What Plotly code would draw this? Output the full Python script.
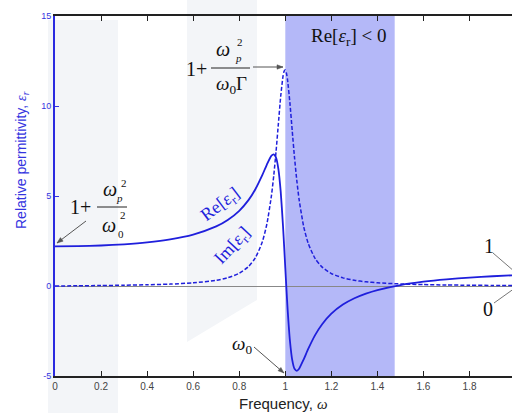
import math
import plotly.graph_objects as go

# Values
omega = [0, 0.1, 0.2, 0.3, 0.4, 0.5, 0.6, 0.7, 0.75, 0.8, 0.84, 0.87, 0.9, 0.92, 0.94,
         0.95, 0.96, 0.97, 0.98, 0.99, 0.995, 1.0, 1.005, 1.01, 1.02, 1.03, 1.04, 1.05,
         1.06, 1.08, 1.1, 1.13, 1.16, 1.2, 1.25, 1.3, 1.35, 1.4, 1.5, 1.6, 1.7, 1.8, 1.9, 2.0]
re_eps = [2.2, 2.212, 2.25, 2.317, 2.425, 2.593, 2.859, 3.309, 3.665, 4.176, 4.769, 5.376,
          6.158, 6.749, 7.24, 7.314, 7.124, 6.497, 5.254, 3.342, 2.197, 1.0, -0.179, -1.274,
          -3.028, -4.104, -4.603, -4.713, -4.594, -4.074, -3.484, -2.715, -2.121, -1.538,
          -1.033, -0.68, -0.421, -0.224, 0.054, 0.239, 0.37, 0.468, 0.543, 0.602]
im_eps = [0.0, 0.012, 0.026, 0.043, 0.068, 0.106, 0.174, 0.317, 0.457, 0.706, 1.075, 1.566,
          2.443, 3.444, 5.039, 6.152, 7.499, 9.022, 10.526, 11.65, 11.94, 12.0, 11.823, 11.428,
          10.17, 8.633, 7.142, 5.852, 4.798, 3.293, 2.349, 1.516, 1.047, 0.692, 0.452, 0.316,
          0.233, 0.179, 0.114, 0.078, 0.057, 0.043, 0.033, 0.027]
neg_region = [1.0, 1.475]
x_ticks = [0, 0.2, 0.4, 0.6, 0.8, 1.0, 1.2, 1.4, 1.6, 1.8, 2.0]
x_tick_text = ["0", "0.2", "0.4", "0.6", "0.8", "1", "1.2", "1.4", "1.6", "1.8", "2"]
y_ticks = [-5, 0, 5, 10, 15]
y_tick_text = ["-5", "0", "5", "10", "15"]

W, H = 512, 413
L, R, T, B = 55, 0, 16, 37
PW, PH = W - L - R, H - T - B


def px(x):
    return (x - L) / PW


def py(y):
    return (H - B - y) / PH


BLUE = "#1f1fdc"
SERIF = "Liberation Serif"

fig = go.Figure()
fig.add_trace(go.Scatter(x=omega, y=re_eps, mode="lines",
                         line=dict(color=BLUE, width=1.8, shape="spline", smoothing=0.6),
                         showlegend=False, hoverinfo="skip"))
fig.add_trace(go.Scatter(x=omega, y=im_eps, mode="lines",
                         line=dict(color=BLUE, width=1.5, dash="4px,2px", shape="spline", smoothing=0.6),
                         showlegend=False, hoverinfo="skip"))

shapes = []
wm = "#f3f5f8"
# faint watermark bands
shapes.append(dict(type="path", xref="paper", yref="paper", layer="below",
                   path=f"M {px(48)},{py(20)} L {px(118)},{py(20)} L {px(118)},{py(413)} L {px(48)},{py(413)} Z",
                   fillcolor=wm, line=dict(width=0)))
shapes.append(dict(type="path", xref="paper", yref="paper", layer="below",
                   path=f"M {px(187)},{py(0)} L {px(257)},{py(0)} L {px(257)},{py(300)} L {px(187)},{py(342)} Z",
                   fillcolor=wm, line=dict(width=0)))
# Re[eps] < 0 region
shapes.append(dict(type="rect", xref="x", yref="paper", x0=neg_region[0], x1=neg_region[1],
                   y0=0, y1=1, fillcolor="#b4b8f8", line=dict(width=0), layer="below"))
# fraction bars
for x0, x1, y in [(211, 250, 68), (97, 127, 207)]:
    shapes.append(dict(type="line", xref="paper", yref="paper", x0=px(x0), x1=px(x1),
                       y0=py(y), y1=py(y), line=dict(color="#222", width=1)))
# leader lines at right
shapes.append(dict(type="line", xref="paper", yref="paper", x0=px(493), y0=py(253), x1=px(515), y1=py(272),
                   line=dict(color="#777", width=1)))
shapes.append(dict(type="line", xref="paper", yref="paper", x0=px(494), y0=py(303), x1=px(515), y1=py(288),
                   line=dict(color="#777", width=1)))


def arrow(tx, ty, hx, hy, color="#555"):
    shapes.append(dict(type="line", xref="paper", yref="paper", x0=px(tx), y0=py(ty), x1=px(hx), y1=py(hy),
                       line=dict(color=color, width=1)))
    ang = math.atan2(hy - ty, hx - tx)
    ln, wd = 6, 2.2
    bx, by = hx - ln * math.cos(ang), hy - ln * math.sin(ang)
    p1 = (bx + wd * math.sin(ang), by - wd * math.cos(ang))
    p2 = (bx - wd * math.sin(ang), by + wd * math.cos(ang))
    shapes.append(dict(type="path", xref="paper", yref="paper",
                       path=f"M {px(hx)},{py(hy)} L {px(p1[0])},{py(p1[1])} L {px(p2[0])},{py(p2[1])} Z",
                       fillcolor=color, line=dict(color=color, width=0.5)))


arrow(253, 67, 283, 67)
arrow(86, 221, 57, 243)
arrow(254, 347, 284, 373)

ann = []


def txt(x, y, text, size, color="#111", angle=0, family=SERIF):
    ann.append(dict(x=px(x), y=py(y), xref="paper", yref="paper", text=text, showarrow=False,
                    xanchor="center", yanchor="middle", textangle=angle,
                    font=dict(family=family, size=size, color=color)))


# Re<0 label
txt(348, 37, "Re[<i>ε</i><sub>r</sub>] &lt; 0", 19)
# top formula 1 + wp^2/(w0 Gamma)
txt(196, 69, "1+", 20)
txt(223, 49, "<i>ω</i>", 20)
txt(240, 42, "2", 11)
txt(238, 58, "<i>p</i>", 11)
txt(231, 85, "<i>ω</i><sub>0</sub>Γ", 19)
# left formula 1 + wp^2/w0^2
txt(80, 207, "1+", 20)
txt(110, 189, "<i>ω</i>", 20)
txt(124, 183, "2", 11)
txt(119, 198, "<i>p</i>", 11)
txt(109, 225, "<i>ω</i>", 20)
txt(121, 234, "0", 11)
txt(123, 215, "2", 11)
# curve labels
txt(220, 205, "Re[<i>ε</i><sub>r</sub>]", 18, BLUE, -37)
txt(233, 247, "Im[<i>ε</i><sub>r</sub>]", 18, BLUE, -47)
# omega_0 label
txt(242, 345, "<i>ω</i><sub>0</sub>", 19)
# right labels
txt(489, 246, "1", 20)
txt(488, 309, "0", 20)
# axis titles
txt(283, 403, "Frequency, <span style='font-family:Liberation Serif'><i>ω</i></span>", 15, "#222", 0, "Arial")
txt(22, 160, "Relative permittivity, <span style='font-family:Liberation Serif'><i>ε<sub>r</sub></i></span>",
    14, "#3434e0", -90, "Arial")

fig.update_layout(
    width=W, height=H, margin=dict(l=L, r=R, t=T, b=B),
    paper_bgcolor="white", plot_bgcolor="rgba(0,0,0,0)",
    shapes=shapes, annotations=ann,
    xaxis=dict(range=[0, (W - L) / 230.3], tickvals=x_ticks, ticktext=x_tick_text,
               ticks="inside", ticklen=5, tickcolor="#222", showline=True, linecolor="#222",
               linewidth=1.5, mirror="ticks", showgrid=False, zeroline=False,
               tickfont=dict(family="Arial", size=10, color="#444")),
    yaxis=dict(range=[-5, 15], tickvals=y_ticks, ticktext=y_tick_text,
               ticks="inside", ticklen=4, tickcolor="#3434e0", showline=True, linecolor="#2a2ae0",
               linewidth=2, showgrid=False, zeroline=True, zerolinecolor="#888", zerolinewidth=1,
               tickfont=dict(family="Arial", size=9, color="#3434e0")),
)

fig.write_html("out.html")
